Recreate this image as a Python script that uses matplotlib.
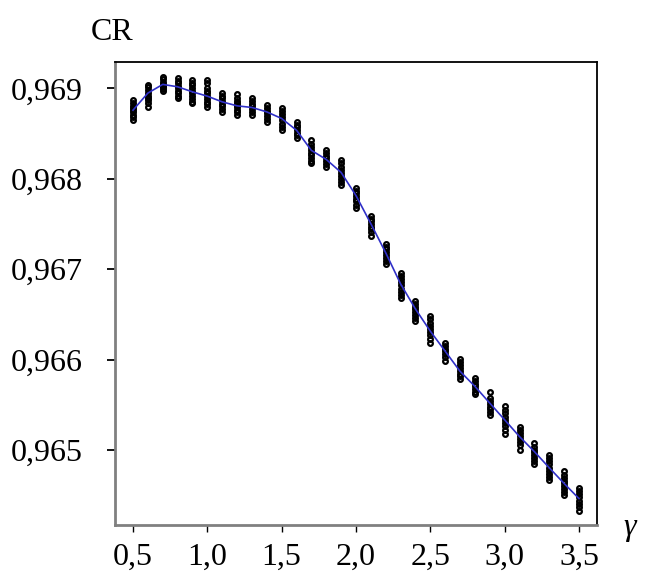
import matplotlib
matplotlib.use("Agg")
import matplotlib.pyplot as plt

# ---- data ----
gamma = [0.5, 0.6, 0.7, 0.8, 0.9, 1.0, 1.1, 1.2, 1.3, 1.4, 1.5, 1.6, 1.7, 1.8, 1.9, 2.0,
         2.1, 2.2, 2.3, 2.4, 2.5, 2.6, 2.7, 2.8, 2.9, 3.0, 3.1, 3.2, 3.3, 3.4, 3.5]

cr_mean = [0.968759, 0.968948, 0.969044, 0.969018, 0.968962, 0.968914, 0.968851, 0.968807,
           0.968789, 0.968740, 0.968667, 0.968537, 0.968314, 0.968214, 0.968070, 0.967814,
           0.967503, 0.967181, 0.966837, 0.966559, 0.966314, 0.966092, 0.965870, 0.965703,
           0.965518, 0.965333, 0.965148, 0.964981, 0.964803, 0.964629, 0.964462]

cr_runs = [
    [0.968870, 0.968840, 0.968810, 0.968780, 0.968760, 0.968740, 0.968710, 0.968680, 0.968650],
    [0.969040, 0.969010, 0.968980, 0.968950, 0.968920, 0.968890, 0.968870, 0.968837, 0.968792],
    [0.969125, 0.969100, 0.969075, 0.969050, 0.969030, 0.969010, 0.968990, 0.968970],
    [0.969115, 0.969085, 0.969055, 0.969025, 0.969000, 0.968975, 0.968945, 0.968915, 0.968892],
    [0.969092, 0.969059, 0.969035, 0.969005, 0.968975, 0.968945, 0.968915, 0.968885, 0.968855, 0.968837],
    [0.969092, 0.969059, 0.969003, 0.968975, 0.968945, 0.968915, 0.968885, 0.968855, 0.968825, 0.968795],
    [0.968948, 0.968920, 0.968890, 0.968860, 0.968830, 0.968800, 0.968770, 0.968740],
    [0.968937, 0.968890, 0.968865, 0.968840, 0.968815, 0.968790, 0.968765, 0.968740, 0.968705],
    [0.968890, 0.968860, 0.968830, 0.968800, 0.968770, 0.968740, 0.968705],
    [0.968814, 0.968785, 0.968755, 0.968725, 0.968695, 0.968665, 0.968626],
    [0.968781, 0.968750, 0.968715, 0.968680, 0.968645, 0.968610, 0.968575, 0.968537],
    [0.968626, 0.968600, 0.968570, 0.968540, 0.968510, 0.968480, 0.968448],
    [0.968426, 0.968390, 0.968355, 0.968320, 0.968290, 0.968260, 0.968230, 0.968200, 0.968170],
    [0.968314, 0.968285, 0.968255, 0.968225, 0.968195, 0.968165, 0.968126],
    [0.968203, 0.968170, 0.968135, 0.968100, 0.968065, 0.968030, 0.967995, 0.967960, 0.967926],
    [0.967903, 0.967870, 0.967840, 0.967810, 0.967780, 0.967750, 0.967715, 0.967681],
    [0.967592, 0.967560, 0.967530, 0.967500, 0.967470, 0.967440, 0.967410, 0.967370],
    [0.967281, 0.967250, 0.967220, 0.967190, 0.967160, 0.967125, 0.967090, 0.967059],
    [0.966959, 0.966925, 0.966890, 0.966855, 0.966820, 0.966785, 0.966750, 0.966715, 0.966681],
    [0.966648, 0.966615, 0.966585, 0.966555, 0.966525, 0.966495, 0.966460, 0.966426],
    [0.966481, 0.966445, 0.966410, 0.966375, 0.966340, 0.966305, 0.966270, 0.966230, 0.966181],
    [0.966181, 0.966150, 0.966120, 0.966090, 0.966060, 0.966030, 0.965981],
    [0.966003, 0.965970, 0.965940, 0.965910, 0.965875, 0.965845, 0.965815, 0.965781],
    [0.965792, 0.965765, 0.965735, 0.965705, 0.965675, 0.965645, 0.965614],
    [0.965637, 0.965570, 0.965540, 0.965510, 0.965480, 0.965450, 0.965420, 0.965392],
    [0.965481, 0.965445, 0.965410, 0.965370, 0.965335, 0.965300, 0.965260, 0.965220, 0.965181],
    [0.965259, 0.965225, 0.965190, 0.965155, 0.965120, 0.965085, 0.965050, 0.965003],
    [0.965081, 0.965037, 0.965005, 0.964975, 0.964945, 0.964910, 0.964880, 0.964848],
    [0.964948, 0.964910, 0.964875, 0.964840, 0.964805, 0.964770, 0.964735, 0.964700, 0.964670],
    [0.964770, 0.964726, 0.964695, 0.964660, 0.964630, 0.964600, 0.964565, 0.964537, 0.964503],
    [0.964581, 0.964545, 0.964510, 0.964475, 0.964440, 0.964405, 0.964370, 0.964326],
]

xticks = [0.5, 1.0, 1.5, 2.0, 2.5, 3.0, 3.5]
xtick_labels = ["0,5", "1,0", "1,5", "2,0", "2,5", "3,0", "3,5"]
yticks = [0.965, 0.966, 0.967, 0.968, 0.969]
ytick_labels = ["0,965", "0,966", "0,967", "0,968", "0,969"]

# ---- figure ----
plt.rcParams["font.family"] = ["Liberation Serif", "DejaVu Serif"]
fig = plt.figure(figsize=(6.45, 5.74), dpi=100)
ax = fig.add_axes([115 / 645, 1 - 525 / 574, (597 - 115) / 645, (525 - 62) / 574])

for g, runs in zip(gamma, cr_runs):
    ax.plot([g] * len(runs), runs, linestyle="none", marker="o", markersize=3.4,
            markerfacecolor="none", markeredgecolor="black", markeredgewidth=1.6, zorder=2)

ax.plot(gamma, cr_mean, color="#3030c8", linewidth=1.2, zorder=3)

ax.set_xlim(0.379, 3.621)
ax.set_ylim(0.96417, 0.969292)

ax.set_xticks(xticks)
ax.set_xticklabels(xtick_labels)
ax.set_yticks(yticks)
ax.set_yticklabels(ytick_labels)

ax.tick_params(axis="y", direction="out", length=6, width=1.3, pad=17, labelsize=23, colors="black")
ax.tick_params(axis="x", direction="out", length=5, width=1.0, pad=7.5, labelsize=23, colors="black")

for side in ("left", "bottom"):
    ax.spines[side].set_color("#808080")
    ax.spines[side].set_linewidth(2.0)
for side in ("top", "right"):
    ax.spines[side].set_color("black")
    ax.spines[side].set_linewidth(1.3)

fig.text(112 / 645, 1 - 33 / 574, "CR", fontsize=23, ha="center", va="center")
fig.text(630 / 645, 1 - 528 / 574, "γ", fontsize=23, style="italic", ha="center", va="center")

fig.savefig("out.png", dpi=100)
